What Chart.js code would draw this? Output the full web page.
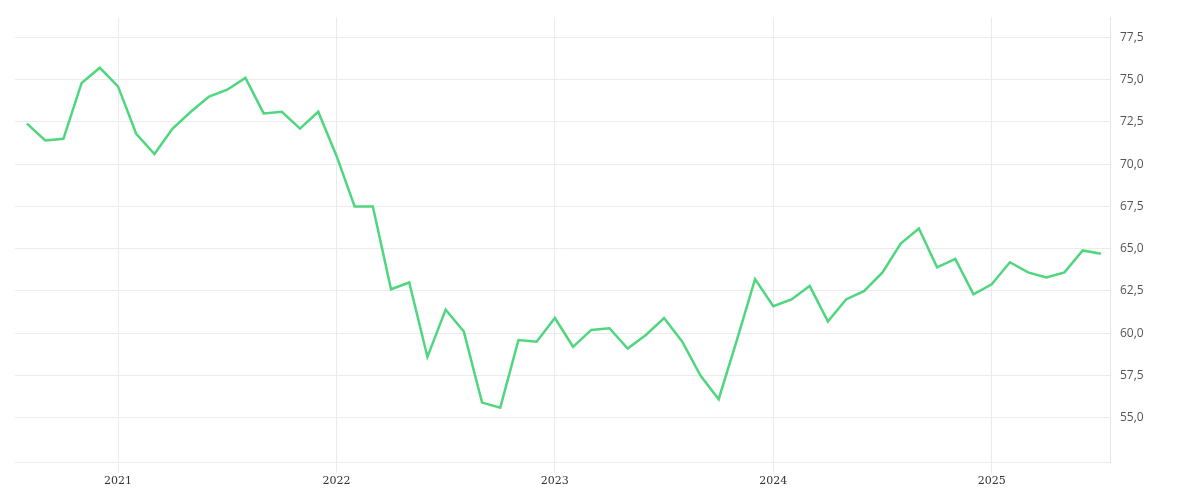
<!DOCTYPE html>
<html><head><meta charset="utf-8">
<script src="https://cdn.jsdelivr.net/npm/chart.js@4"></script>
<style>html,body{margin:0;background:#fff}#w{width:1200px;height:500px}</style>
</head><body><div id="w"><canvas id="c"></canvas></div>
<script>
const startYear = 2020, startMonth = 8;
const values = [72.4,71.4,71.5,74.8,75.7,74.6,71.8,70.6,72.1,73.1,74.0,74.4,75.1,73.0,73.1,72.1,73.1,70.5,67.5,67.5,
62.6,63.0,58.6,61.4,60.1,55.9,55.6,59.6,59.5,60.9,59.2,60.2,60.3,59.1,59.9,60.9,59.5,57.5,56.1,59.6,
63.2,61.6,62.0,62.8,60.7,62.0,62.5,63.6,65.3,66.2,63.9,64.4,62.3,62.9,64.2,63.6,63.3,63.6,64.9,64.7];
const yearLabels = ['2021','2022','2023','2024','2025'];
const yearTickIdx = [5,17,29,41,53];
const pts = values.map((v,i)=>({x:i,y:v}));
new Chart(document.getElementById('c'),{
 type:'line',
 data:{datasets:[{data:pts,borderColor:'#4fd67e',borderWidth:2.5,pointRadius:0,tension:0,fill:false}]},
 options:{responsive:true,maintainAspectRatio:false,animation:false,
  layout:{padding:{left:15,top:7,right:0,bottom:10}},
  plugins:{legend:{display:false},tooltip:{enabled:false}},
  scales:{
   x:{type:'linear',min:-0.66,max:59.5,
    afterBuildTicks:s=>{s.ticks=yearTickIdx.map(v=>({value:v}));},
    ticks:{autoSkip:false,maxRotation:0,color:'#333',padding:2,font:{family:'DejaVu Serif',size:11},
      callback:(v)=>yearLabels[yearTickIdx.indexOf(v)]},
    grid:{color:'#ebebeb',tickLength:10,drawTicks:true},border:{display:false}},
   y:{position:'right',min:52.34,max:78.69,
    afterBuildTicks:s=>{const t=[{value:52.34}];for(let v=55;v<=77.5;v+=2.5)t.push({value:v});s.ticks=t;},
    ticks:{color:'#555',padding:10,font:{family:'Open Sans',size:12},
      callback:v=>Math.abs(v%2.5)<1e-6?v.toFixed(1).replace('.',','):''},
    grid:{color:'#ebebeb',drawTicks:false},border:{color:'#e6e6e6'},afterFit:s=>{s.width=90;}}
  }}
});
</script></body></html>
